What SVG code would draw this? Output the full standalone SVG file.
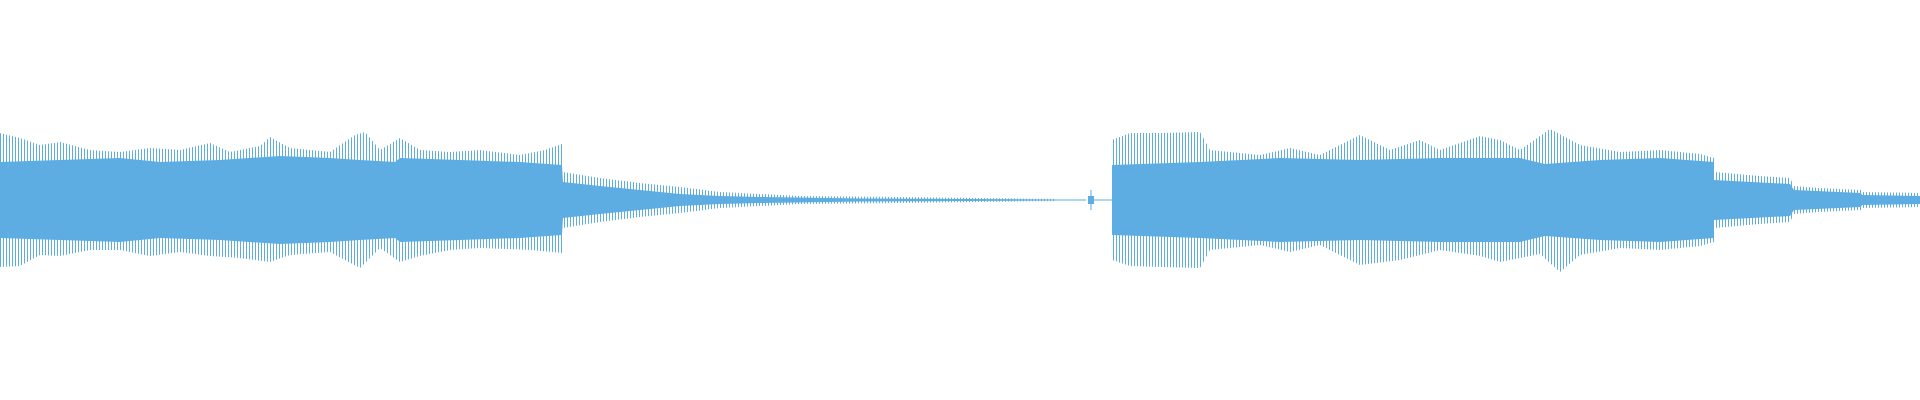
<svg xmlns="http://www.w3.org/2000/svg" width="1920" height="400" viewBox="0 0 1920 400">
<defs>
<pattern id="ln" width="3" height="400" patternUnits="userSpaceOnUse"><rect x="0" y="0" width="1" height="400" fill="#5dade2"/></pattern>
<pattern id="ln2" width="5" height="400" patternUnits="userSpaceOnUse" x="2"><rect x="0" y="0" width="1" height="400" fill="#5dade2"/></pattern>
</defs>
<style>.core{fill:#5dade2}.out{fill:url(#ln)}.out2{fill:url(#ln2)}</style>
<rect width="1920" height="400" fill="#fff"/>
<g id="spikes">
<path class="out" d="M0,133 L20,138 L40,145 L60,142 L90,150 L120,152 L150,148 L180,150 L210,143 L230,152 L260,146 L270,137 L290,148 L330,152 L355,135 L365,132 L380,150 L400,138 L420,150 L450,152 L480,150 L520,155 L545,150 L562,144 L563,172 L600,178 L640,183 L680,187 L720,192 L760,194 L800,196 L900,197 L1054,199 L1054,201 L900,203 L800,204 L760,206 L720,208 L680,213 L640,217 L600,222 L563,228 L562,253 L530,250 L480,248 L450,250 L420,256 L400,262 L380,248 L360,268 L330,252 L290,255 L270,262 L240,258 L210,256 L180,252 L150,256 L120,250 L90,250 L60,256 L40,255 L20,266 L0,267 Z"/>
<path class="out" d="M1112,140 L1130,133 L1160,133 L1200,132 L1210,150 L1260,155 L1290,148 L1320,155 L1360,135 L1390,150 L1420,140 L1440,150 L1480,136 L1500,140 L1520,150 L1550,129 L1580,145 L1620,152 L1660,150 L1700,154 L1714,158 L1714,172 L1760,176 L1790,178 L1794,186 L1820,188 L1861,190 L1862,192 L1920,193 L1920,207 L1862,208 L1861,210 L1820,212 L1794,214 L1790,222 L1760,224 L1714,228 L1714,242 L1700,246 L1660,250 L1620,248 L1580,255 L1560,272 L1540,254 L1500,262 L1480,256 L1440,250 L1400,260 L1360,265 L1320,245 L1290,252 L1260,245 L1210,250 L1200,268 L1160,267 L1130,266 L1112,260 Z"/>
</g>
<g id="core">
<path class="core" d="M0,162 L60,160 L120,158 L160,162 L220,160 L280,156 L330,158 L360,160 L395,162 L400,158 L460,160 L520,162 L562,165 L563,182 L600,186 L640,190 L680,194 L720,196 L760,197 L860,198.5 L1054,199.5 L1054,200.5 L860,201.5 L760,203 L720,204 L680,206 L640,210 L600,214 L563,218 L562,235 L520,238 L460,240 L400,242 L395,238 L360,240 L330,242 L280,244 L220,240 L160,238 L120,242 L60,240 L0,238 Z"/>
<path class="core" d="M1112,165 L1200,162 L1280,158 L1360,160 L1440,158 L1520,158 L1545,164 L1600,160 L1660,158 L1714,162 L1714,180 L1790,184 L1794,190 L1861,193 L1862,195 L1920,196 L1920,204 L1862,205 L1861,207 L1794,210 L1790,216 L1714,220 L1714,238 L1660,242 L1600,240 L1545,236 L1520,242 L1440,242 L1360,240 L1280,242 L1200,238 L1112,235 Z"/>
<path d="M1054,200 L1086,200 M1092,200 L1112,200 M1091,190 L1091,210" stroke="#5dade2" stroke-width="1" fill="none"/>
<path d="M1088,196 L1094,196 L1094,204 L1088,204 Z" class="core"/>
</g>
</svg>
